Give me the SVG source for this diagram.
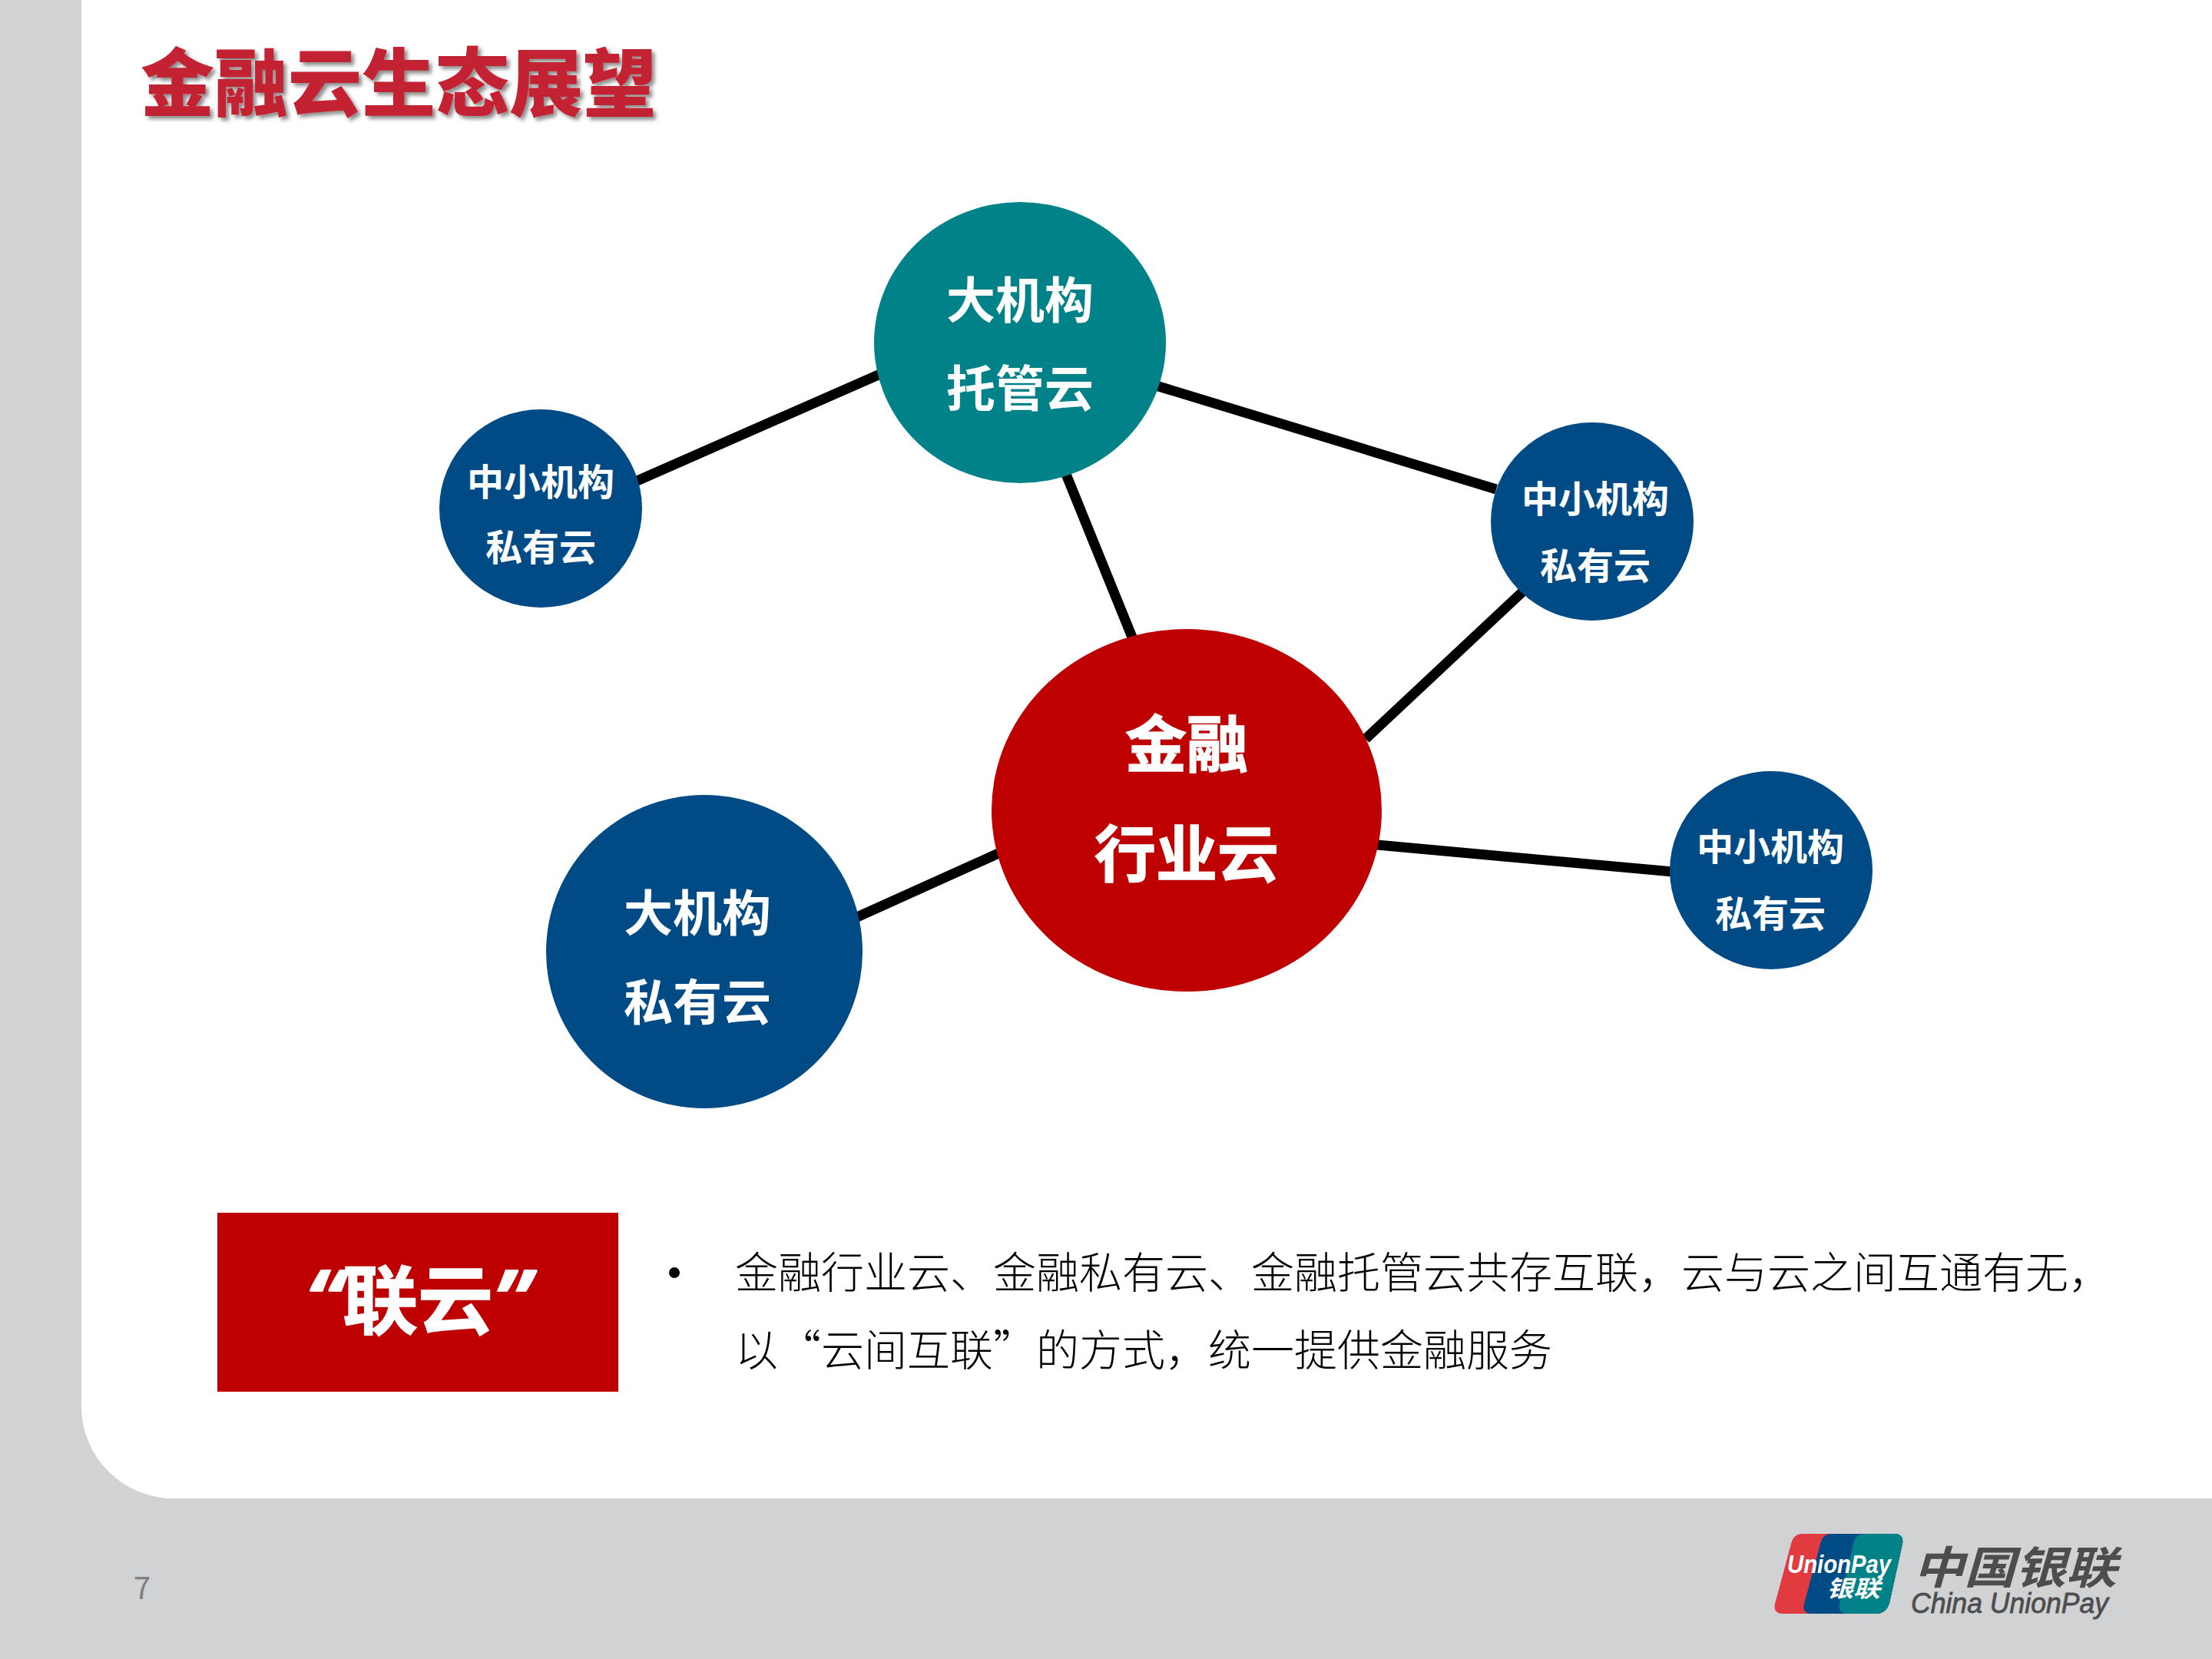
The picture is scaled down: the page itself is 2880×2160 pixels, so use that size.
<svg xmlns="http://www.w3.org/2000/svg" width="2880" height="2160" viewBox="0 0 2880 2160">
<style>
text{font-family:"Noto Sans CJK SC","Noto Sans CJK JP",sans-serif}
.n{font-weight:700;fill:#fff;text-anchor:middle}
.ex{stroke:#fff;stroke-width:1.5}
.l{stroke:#000;stroke-width:13;fill:none}
.b{font-size:56px;fill:#000;font-weight:300}
.q{font-family:"Noto Sans",sans-serif;font-weight:700;font-style:italic}
</style>
<defs><filter id="sh" x="-5%" y="-20%" width="110%" height="140%"><feDropShadow dx="4" dy="4" stdDeviation="2.5" flood-color="#000" flood-opacity=".45"/></filter>
<clipPath id="card"><path d="M2347 1997H2466Q2479 1997 2477 2010L2460 2087Q2456 2101 2442 2101H2322Q2308 2101 2311 2088L2332 2010Q2335 1997 2347 1997Z"/></clipPath></defs>
<rect width="2880" height="2160" fill="#d0d2d3"/>
<path d="M106 0H2880V1951H226A120 120 0 0 1 106 1831Z" fill="#fff"/>
<text id="title" x="183" y="143" font-size="96" font-weight="900" fill="#c32130" filter="url(#sh)">金融云生态展望</text>
<g id="connectors">
<line class="l" x1="825" y1="628" x2="1146" y2="487"/>
<line class="l" x1="1505" y1="502" x2="1948" y2="637"/>
<line class="l" x1="1387" y1="615" x2="1475" y2="832"/>
<line class="l" x1="1778" y1="962" x2="1985" y2="768"/>
<line class="l" x1="1793" y1="1100" x2="2178" y2="1135"/>
<line class="l" x1="1116" y1="1194" x2="1300" y2="1111"/>
</g>
<g id="n1"><ellipse cx="1328" cy="446" rx="190" ry="183" fill="#008288"/><text class="n" font-size="64" x="1328" y="414">大机构</text><text class="n" font-size="64" x="1328" y="529">托管云</text></g>
<g id="n2"><ellipse cx="704" cy="662" rx="132" ry="129" fill="#004b85"/><text class="n" font-size="48" x="704" y="645">中小机构</text><text class="n" font-size="48" x="704" y="730">私有云</text></g>
<g id="n3"><ellipse cx="2073" cy="679" rx="132" ry="129" fill="#004b85"/><text class="n" font-size="48" x="2077" y="667">中小机构</text><text class="n" font-size="48" x="2077" y="754">私有云</text></g>
<g id="n4"><ellipse cx="2306" cy="1133" rx="132" ry="129" fill="#004b85"/><text class="n" font-size="48" x="2305" y="1120">中小机构</text><text class="n" font-size="48" x="2305" y="1207">私有云</text></g>
<g id="n5"><ellipse cx="1545" cy="1055" rx="254" ry="236" fill="#be0000"/><text class="n ex" font-size="80" x="1545" y="998">金融</text><text class="n ex" font-size="80" x="1545" y="1141">行业云</text></g>
<g id="n6"><ellipse cx="917" cy="1239" rx="206" ry="204" fill="#004b85"/><text class="n" font-size="64" x="908" y="1212">大机构</text><text class="n" font-size="64" x="908" y="1328">私有云</text></g>
<g id="lianyun"><rect x="283" y="1579" width="522" height="233" fill="#be0000"/><text class="n ex" font-size="98" x="544" y="1729" stroke-width="2"><tspan class="q" font-size="112" dy="4">“</tspan><tspan dy="-4">联云</tspan><tspan class="q" font-size="112" dy="4">”</tspan></text></g>
<g id="body"><circle cx="878" cy="1657" r="7" fill="#000"/>
<text class="b" x="957" y="1677">金融行业云、金融私有云、金融托管云共存互联，云与云之间互通有无，</text>
<text class="b" x="957" y="1778">以“云间互联”的方式，统一提供金融服务</text></g>
<text id="page" x="174" y="2082" font-size="40" fill="#7f7f7f">7</text>
<g id="logo">
<g clip-path="url(#card)"><rect x="2300" y="1990" width="190" height="120" fill="#e23b3f"/><path d="M2385 1997H2480V2101H2358Q2346 2101 2349 2088L2370 2010Q2373 1997 2385 1997Z" fill="#004b85"/><path d="M2428 1997H2480V2101H2406Q2393 2101 2395 2088L2413 2010Q2416 1997 2428 1997Z" fill="#008288"/></g>
<text x="2327" y="2048" font-size="34" font-weight="700" font-style="italic" fill="#fff" textLength="135" lengthAdjust="spacingAndGlyphs" style="font-family:'Liberation Sans',sans-serif">UnionPay</text>
<text x="2378" y="2079" font-size="30" font-weight="700" font-style="italic" fill="#fff" textLength="70" lengthAdjust="spacingAndGlyphs">银联</text>
<text x="2491" y="2062" font-size="58" font-weight="700" font-style="italic" fill="#4d4d4f" textLength="265" lengthAdjust="spacingAndGlyphs">中国银联</text>
<text x="2488" y="2100" font-size="37" font-style="italic" fill="#4d4d4f" stroke="#4d4d4f" stroke-width=".8" textLength="257" lengthAdjust="spacingAndGlyphs" style="font-family:'Liberation Sans',sans-serif">China UnionPay</text>
</g>
</svg>
